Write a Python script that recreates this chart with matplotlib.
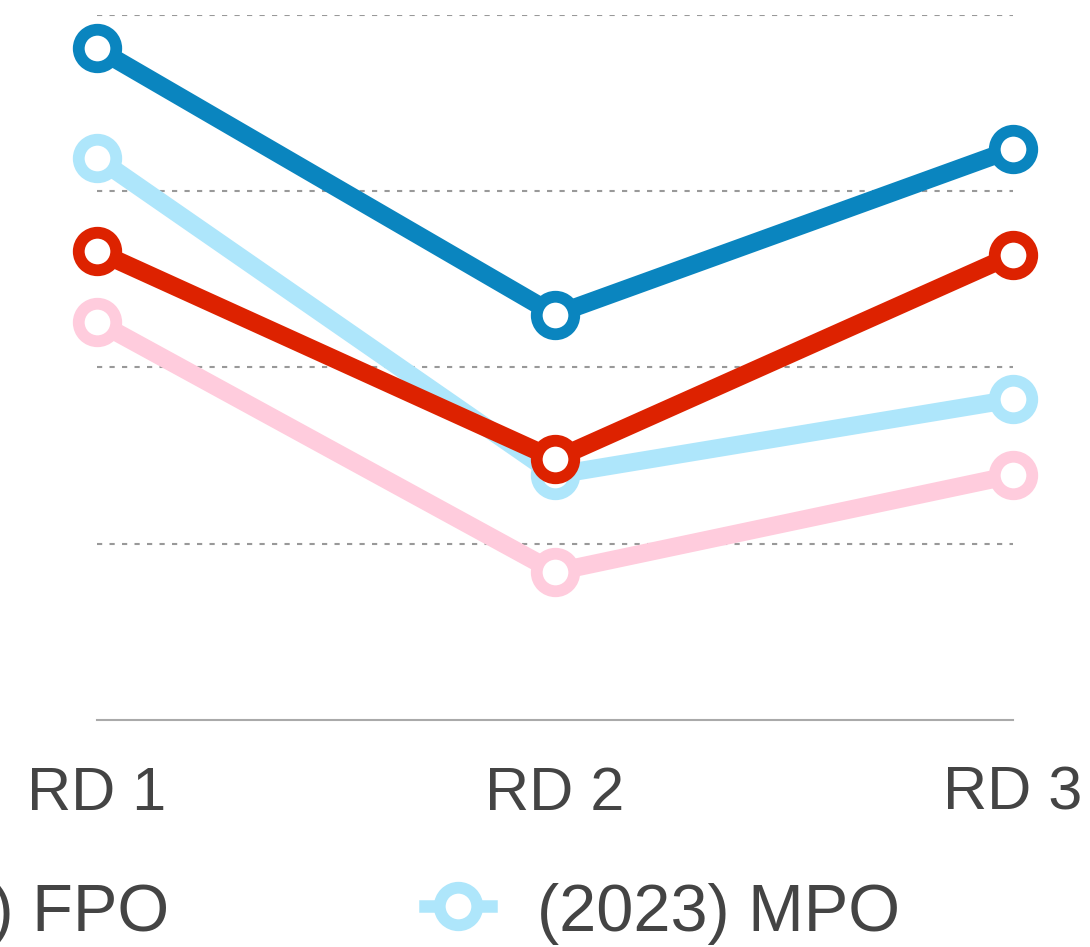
import matplotlib.pyplot as plt
from matplotlib.lines import Line2D

rounds = ['RD 1', 'RD 2', 'RD 3']

# valeurs (unités = écart entre lignes de grille)
mpo_2024 = [3.81, 2.30, 3.24]
mpo_2023 = [3.19, 1.39, 1.82]
fpo_2024 = [2.66, 1.48, 2.64]
fpo_2023 = [2.26, 0.84, 1.39]

series = [
    ('(2023) FPO', fpo_2023, '#FFCCDD'),
    ('(2023) MPO', mpo_2023, '#AEE6FB'),
    ('(2024) FPO', fpo_2024, '#DD2200'),
    ('(2024) MPO', mpo_2024, '#0A85BF'),
]
legend_labels = ['(2023) FPO', '(2023) MPO']

W, H = 1090, 947
fig = plt.figure(figsize=(W / 100, H / 100), dpi=100)
ax = fig.add_axes([97 / W, (H - 720) / H, (1013 - 97) / W, (720 - 15) / H])

x = list(range(len(rounds)))
for nome, vals, cor in series:
    ax.plot(x, vals, color=cor, lw=13, marker='o', ms=27, mew=8.5,
            mfc='white', mec=cor, clip_on=False, zorder=3,
            solid_capstyle='round')

ax.set_xlim(0, 2)
ax.set_ylim(0, 4)
for g in [1, 2, 3, 4]:
    ax.axhline(g, color='#999999', lw=1.5, ls=(0, (2.5, 3.5)), zorder=1)

for s in ['top', 'right', 'left']:
    ax.spines[s].set_visible(False)
ax.spines['bottom'].set_color('#aaaaaa')
ax.spines['bottom'].set_linewidth(1.5)
ax.set_yticks([])
ax.set_xticks(x)
ax.set_xticklabels(rounds, fontsize=44, color='#444444', family='Liberation Sans')
ax.tick_params(axis='x', length=0, pad=33)

# légende (en partie hors cadre, comme sur l'original)
leg_x = [-258, 458]
leg_base = 931
cores = {n: c for n, _, c in series}
for lx, nome in zip(leg_x, legend_labels):
    cor = cores[nome]
    yy = (H - 906) / H
    fig.add_artist(Line2D([(lx - 33) / W, lx / W, (lx + 33) / W], [yy] * 3,
                          color=cor, lw=9, marker='o', ms=27, mew=8.5,
                          mfc='white', mec=cor, markevery=[1],
                          transform=fig.transFigure))
    fig.text((lx + 79) / W, (H - leg_base) / H, nome, fontsize=48, color='#444444',
             family='Liberation Sans', va='baseline', ha='left')

fig.savefig('out.png', dpi=100)
